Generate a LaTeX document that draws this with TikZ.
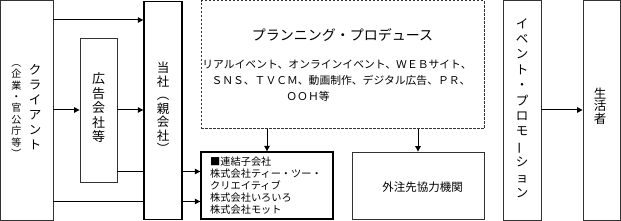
\documentclass[tikz,border=0pt]{standalone}
\usepackage{fontspec}
\setmainfont{Noto Sans CJK JP}
\usetikzlibrary{arrows.meta}
\newcommand\vbar{\rotatebox[origin=c]{90}{ー}}
\tikzset{
  box/.style={draw=black!80, line width=0.8pt, fill=white, inner sep=0pt},
  thickbox/.style={draw=black, line width=1.4pt, fill=white, inner sep=0pt},
  dashbox/.style={draw=black!80, line width=0.9pt, dash pattern=on 2.5pt off 1.5pt, inner sep=0pt},
  lbl/.style={inner sep=0pt, align=center},
  conn/.style={line width=1pt, -{Triangle[length=5.5pt,width=5.5pt]}},
  plain/.style={line width=1pt}
}
\begin{document}
\begin{tikzpicture}[x=1pt,y=-1pt]
\useasboundingbox (0,0) rectangle (621,221);
% boxes
\node[box, minimum width=52.5pt, minimum height=219.5pt] (client) at (26.75,110.5) {};
\node[box, minimum width=37pt, minimum height=144pt] (koukoku) at (98.5,110) {};
\node[thickbox, minimum width=38pt, minimum height=218pt] (tousha) at (163,110.5) {};
\node[dashbox, minimum width=283pt, minimum height=128pt] (plan) at (342.5,64.75) {};
\node[thickbox, minimum width=132pt, minimum height=67pt] (kogaisha) at (267,185.5) {};
\node[box, minimum width=132pt, minimum height=67pt] (gaichu) at (418,185.5) {};
\node[box, minimum width=38pt, minimum height=219.5pt] (event) at (522,110.5) {};
\node[box, minimum width=37.5pt, minimum height=219.5pt] (seikatsu) at (601.75,110.5) {};
% texts
\node[lbl, font=\fontsize{12.5}{15}\selectfont] (tclient) at (35,107) {ク\\ラ\\イ\\ア\\ン\\ト};
\node[lbl, font=\fontsize{10}{11.4}\selectfont] (tclientsub) at (16.5,111) {︵\\企\\業\\・\\官\\公\\庁\\等\\︶};
\node[lbl, font=\fontsize{13}{14.5}\selectfont] (tkoukoku) at (98.5,108) {広\\告\\会\\社\\等};
\node[lbl, font=\fontsize{12.5}{13.5}\selectfont] (ttousha) at (163,108) {当\\社\\︵\\親\\会\\社\\︶};
\node[lbl, font=\fontsize{14}{16}\selectfont] (tplan) at (342.5,35) {プランニング・プロデュース};
\node[lbl, font=\fontsize{10.8}{15.5}\selectfont] (tplan1) at (337,65) {リアルイベント、オンラインイベント、ＷＥＢサイト、};
\node[lbl, font=\fontsize{10.8}{15.5}\selectfont] (tplan2) at (341,80.5) {ＳＮＳ、ＴＶＣＭ、動画制作、デジタル広告、ＰＲ、};
\node[lbl, font=\fontsize{10.8}{15.5}\selectfont] (tplan3) at (308,96) {ＯＯＨ等};
\node[lbl, align=left, anchor=west, font=\fontsize{10.2}{12}\selectfont] (tkogaisha) at (210,186) {■連結子会社\\株式会社ティー・ツー・\\クリエイティブ\\株式会社いろいろ\\株式会社モット};
\node[lbl, font=\fontsize{11.5}{14}\selectfont] (tgaichu) at (422.5,187) {外注先協力機関};
\node[lbl, font=\fontsize{12.5}{15.4}\selectfont] (tevent) at (522,108) {イ\\ベ\\ン\\ト\\・\\プ\\ロ\\モ\\\vbar\\シ\\ョ\\ン};
\node[lbl, font=\fontsize{12.5}{12.5}\selectfont] (tseikatsu) at (600,106) {生\\活\\者};
% connector levels
\coordinate (ya) at (0,20);
\coordinate (yb) at (0,110);
\coordinate (yc) at (0,171.5);
\coordinate (yd) at (0,201.5);
\coordinate (xa) at (267,0);
\coordinate (xb) at (418,0);
% connectors
\draw[conn] (client.east |- ya) -- (tousha.west |- ya);
\draw[conn] (client.east |- yb) -- (koukoku.west |- yb);
\draw[conn] (koukoku.east |- yb) -- (tousha.west |- yb);
\draw[plain] (koukoku.east |- yc) -- (tousha.west |- yc);
\draw[conn] (tousha.east |- yc) -- (kogaisha.west |- yc);
\draw[plain] (client.east |- yd) -- (tousha.west |- yd);
\draw[conn] (tousha.east |- yd) -- (kogaisha.west |- yd);
\draw[conn] (plan.south -| xa) -- (kogaisha.north -| xa);
\draw[conn] (plan.south -| xb) -- (gaichu.north -| xb);
\draw[conn] (event.east |- yb) -- (seikatsu.west |- yb);
\end{tikzpicture}
\end{document}
